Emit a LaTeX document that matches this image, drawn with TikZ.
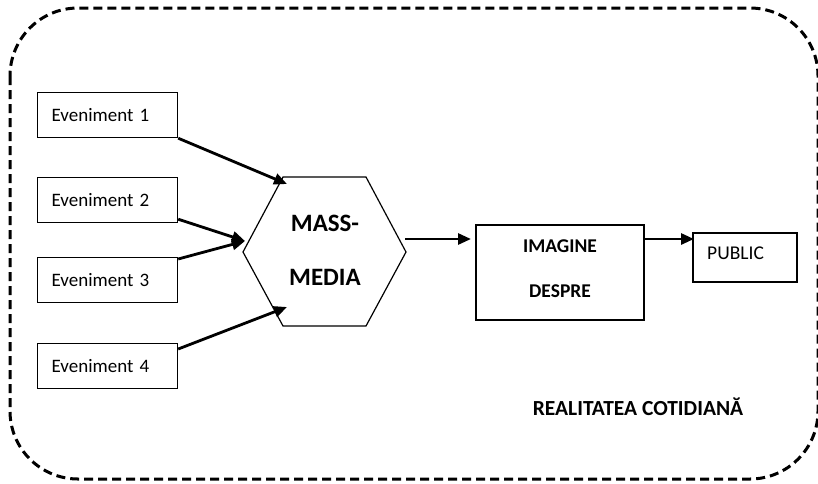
\documentclass[tikz,border=0pt]{standalone}
\usepackage{fontspec}
\setmainfont{Carlito}
\usetikzlibrary{arrows.meta}
\begin{document}
\begin{tikzpicture}[x=1pt,y=-1pt,
  evbox/.style={draw, line width=1.2pt, minimum width=140pt, minimum height=45pt,
    text width=112pt, inner xsep=14pt, inner ysep=0pt, align=left,
    font=\fontsize{19}{22}\selectfont, anchor=north west},
  conn/.style={line width=2.8pt, -{Triangle[length=13pt,width=11pt]}},
  frame/.style={line width=3pt, dash pattern=on 9pt off 5pt, rounded corners=68pt},
  plain/.style={draw, line width=1.2pt, inner sep=0pt},
]
\useasboundingbox (0,0) rectangle (818,483);
\draw[frame] (10,8) rectangle (818,479);

\node[evbox] (e1) at (37,92) {Eveniment 1};
\node[evbox] (e2) at (37,177) {Eveniment 2};
\node[evbox] (e3) at (37,257) {Eveniment 3};
\node[evbox] (e4) at (37,343) {Eveniment 4};

\draw[line width=1.2pt] (243,252) -- (283,177) -- (366,177) -- (406,252) -- (366,326) -- (283,326) -- cycle;
\node[align=center, font=\fontsize{25}{54}\selectfont\bfseries] (hex) at (325,250) {MASS-\\MEDIA};

\node[plain, minimum width=168pt, minimum height=95pt] (img) at (560,272.5) {};
\node[align=center, font=\fontsize{19.5}{45}\selectfont\bfseries] (imgtxt) at (560,268.5) {IMAGINE\\DESPRE};

\node[plain, minimum width=104pt, minimum height=49pt] (pub) at (745,257.5) {};
\node[anchor=west, font=\fontsize{19.5}{22}\selectfont, inner sep=0pt] (pubtxt) at (707,253) {PUBLIC};

\node[font=\fontsize{21.5}{24}\selectfont\bfseries] (real) at (638,407) {REALITATEA COTIDIANĂ};

\coordinate (h1) at (287,184);
\coordinate (h2) at (245,241);
\coordinate (h4) at (287,307);
\coordinate (hr) at (405,239);
\coordinate (il) at (471,239);
\coordinate (ir) at (644,239);
\coordinate (pl) at (694,239);

\draw[conn] (e1.south east) -- (h1);
\draw[conn] ([yshift=4pt]e2.south east) -- (h2);
\draw[conn] ([yshift=-2pt]e3.north east) -- (h2);
\draw[conn] ([yshift=-6pt]e4.north east) -- (h4);
\draw[conn] (hr) -- (il);
\draw[conn] (ir) -- (pl);
\end{tikzpicture}
\end{document}
